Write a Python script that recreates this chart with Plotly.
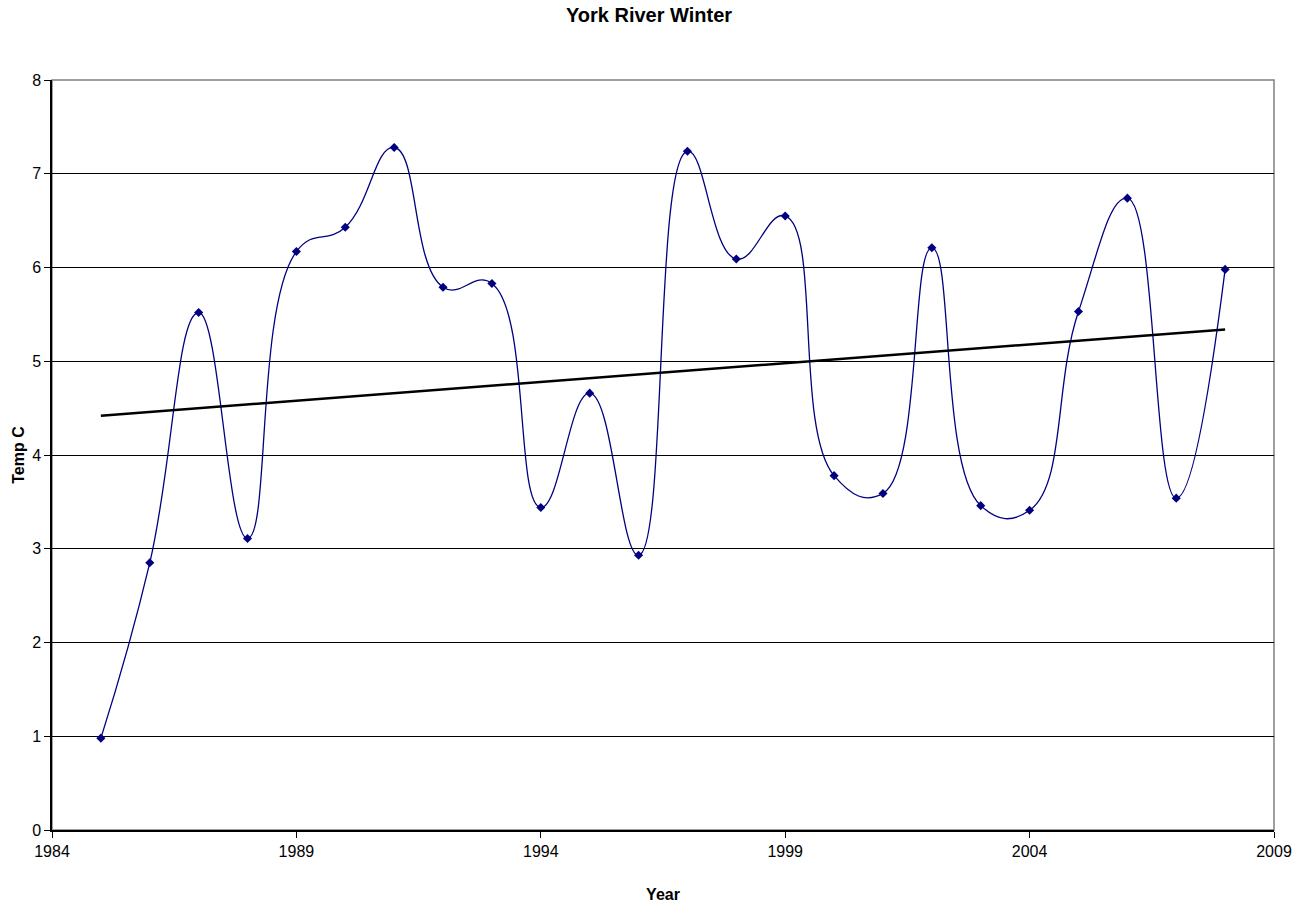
import numpy as np
import plotly.graph_objects as go

# Winter mean water temperature, York River
years = list(range(1985, 2009))
temps = [0.98, 2.85, 5.52, 3.11, 6.17, 6.43, 7.28, 5.79, 5.83, 3.44,
         4.66, 2.93, 7.24, 6.09, 6.55, 3.78, 3.59, 6.21, 3.46, 3.41,
         5.53, 6.74, 3.54, 5.98]

x_ticks = [1984, 1989, 1994, 1999, 2004, 2009]
y_ticks = list(range(0, 9))

# Linear least-squares trend
slope, intercept = np.polyfit(years, temps, 1)
trend_x = [years[0], years[-1]]
trend_y = [slope * v + intercept for v in trend_x]

FONT = "Liberation Sans, Arial, sans-serif"
NAVY = "#000080"

fig = go.Figure()

fig.add_trace(go.Scatter(
    x=years, y=temps,
    mode="lines+markers",
    line=dict(color=NAVY, width=1.3, shape="spline", smoothing=1.3),
    marker=dict(symbol="diamond", size=7, color=NAVY),
    showlegend=False, hoverinfo="x+y",
))

fig.add_trace(go.Scatter(
    x=trend_x, y=trend_y,
    mode="lines",
    line=dict(color="black", width=2.5),
    showlegend=False, hoverinfo="skip",
))

# Gray frame around the plot area (top and right edges)
fig.add_shape(type="rect", xref="paper", yref="paper", x0=0, y0=0, x1=1, y1=1,
              line=dict(color="#808080", width=1.5), layer="below")

fig.update_layout(
    width=1298, height=904,
    margin=dict(l=52, r=24, t=80, b=74, autoexpand=False),
    paper_bgcolor="white", plot_bgcolor="white",
    font=dict(family=FONT, size=16, color="black"),
    title=dict(text="<b>York River Winter</b>", x=0.5, xanchor="center",
               y=1 - 15 / 904, yanchor="middle",
               font=dict(family=FONT, size=20, color="black")),
)

fig.update_xaxes(
    range=[1984, 2009], tickmode="array", tickvals=x_ticks,
    ticktext=[str(v) for v in x_ticks],
    showgrid=False, zeroline=False, automargin=False,
    showline=True, linecolor="black", linewidth=1.5,
    ticks="outside", ticklen=6, tickcolor="black", tickwidth=1,
    tickfont=dict(family=FONT, size=16),
    title=dict(text="<b>Year</b>", standoff=30, font=dict(family=FONT, size=16)),
)

fig.update_yaxes(
    range=[0, 8], tickmode="array", tickvals=y_ticks,
    ticktext=[str(v) for v in y_ticks],
    showgrid=True, gridcolor="black", gridwidth=1,
    zeroline=False, automargin=False,
    showline=True, linecolor="black", linewidth=1.5,
    ticks="outside", ticklen=6, tickcolor="black", tickwidth=1,
    tickfont=dict(family=FONT, size=16),
    title=dict(text="<b>Temp C</b>", standoff=4, font=dict(family=FONT, size=16)),
)

fig.write_html("out.html")
